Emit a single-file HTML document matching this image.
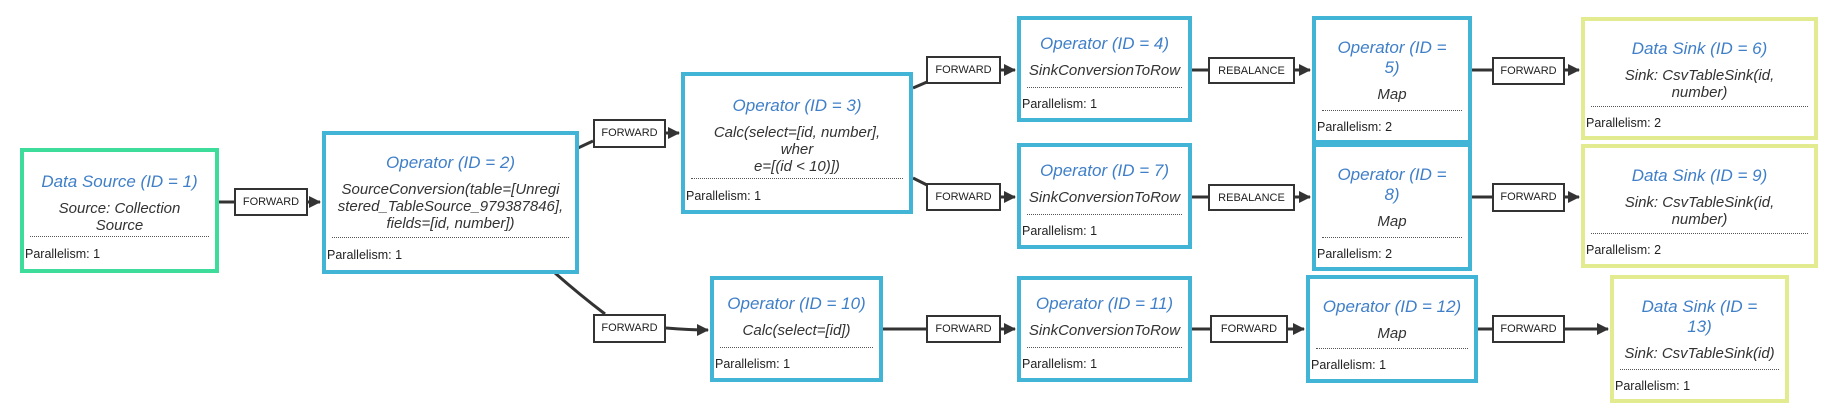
<!DOCTYPE html>
<html><head><meta charset="utf-8"><style>
body{margin:0;width:1841px;height:409px;background:#fff;position:relative;overflow:hidden;font-family:"Liberation Sans",sans-serif}
.n{position:absolute;box-sizing:border-box;border:4px solid #42b4d6;background:#fff;text-align:center}
.g{border-color:#3ddc9b}.y{border-color:#e2eb90}
.t{color:#3f7fc8;font-style:italic;font-size:17px;line-height:20px;margin-top:14px}
.b{color:#333;font-style:italic;font-size:15px;line-height:17px;margin-top:8px}
.s{position:absolute;left:6px;right:6px;border-top:1px dotted #555}
.p{position:absolute;left:1px;font-size:12.5px;color:#222}
.l{position:absolute;box-sizing:border-box;border:2px solid #333;background:#fff;font-size:11px;color:#222;text-align:center;line-height:24px}
svg{position:absolute;left:0;top:0}
</style></head><body>
<svg width="1841" height="409">
<defs><marker id="a" markerWidth="12" markerHeight="12" refX="11" refY="6" orient="auto" markerUnits="userSpaceOnUse"><path d="M0,0L12,6L0,12z" fill="#333"/></marker></defs>
<g stroke="#333" stroke-width="3" fill="none">
<path d="M218,202H234"/><path d="M308,202H320" marker-end="url(#a)"/>
<path d="M578,148L593,141"/><path d="M666,133H679" marker-end="url(#a)"/>
<path d="M555,273Q580,295 605,314"/><path d="M666,328Q690,330 708,330" marker-end="url(#a)"/>
<path d="M913,88L927,82"/><path d="M1001,70H1015" marker-end="url(#a)"/>
<path d="M913,178L927,185"/><path d="M1001,197H1015" marker-end="url(#a)"/>
<path d="M1192,70H1208"/><path d="M1295,70H1310" marker-end="url(#a)"/>
<path d="M1192,197H1208"/><path d="M1295,197H1310" marker-end="url(#a)"/>
<path d="M1470,70H1492"/><path d="M1565,70H1579" marker-end="url(#a)"/>
<path d="M1470,197H1492"/><path d="M1565,197H1579" marker-end="url(#a)"/>
<path d="M883,329H926"/><path d="M1001,329H1015" marker-end="url(#a)"/>
<path d="M1192,329H1210"/><path d="M1288,329H1304" marker-end="url(#a)"/>
<path d="M1478,329H1492"/><path d="M1565,329H1608" marker-end="url(#a)"/>
</g></svg>

<div class="n g" style="left:20px;top:148px;width:199px;height:125px"><div class="t" style="margin-top:20px">Data Source (ID = 1)</div><div class="b">Source: Collection<br>Source</div><div class="s" style="top:84px"></div><div class="p" style="top:95px">Parallelism: 1</div></div>
<div class="n" style="left:322px;top:131px;width:257px;height:143px"><div class="t" style="margin-top:18px">Operator (ID = 2)</div><div class="b">SourceConversion(table=[Unregi<br>stered_TableSource_979387846],<br>fields=[id, number])</div><div class="s" style="top:102px"></div><div class="p" style="top:113px">Parallelism: 1</div></div>
<div class="n" style="left:681px;top:72px;width:232px;height:142px"><div class="t" style="margin-top:20px">Operator (ID = 3)</div><div class="b">Calc(select=[id, number],<br>wher<br>e=[(id &lt; 10)])</div><div class="s" style="top:102px"></div><div class="p" style="top:113px">Parallelism: 1</div></div>
<div class="n" style="left:1017px;top:16px;width:175px;height:106px"><div class="t">Operator (ID = 4)</div><div class="b">SinkConversionToRow</div><div class="s" style="top:67px"></div><div class="p" style="top:77px">Parallelism: 1</div></div>
<div class="n" style="left:1017px;top:143px;width:175px;height:106px"><div class="t">Operator (ID = 7)</div><div class="b">SinkConversionToRow</div><div class="s" style="top:67px"></div><div class="p" style="top:77px">Parallelism: 1</div></div>
<div class="n" style="left:710px;top:276px;width:173px;height:106px"><div class="t">Operator (ID = 10)</div><div class="b">Calc(select=[id])</div><div class="s" style="top:67px"></div><div class="p" style="top:77px">Parallelism: 1</div></div>
<div class="n" style="left:1017px;top:276px;width:175px;height:106px"><div class="t">Operator (ID = 11)</div><div class="b">SinkConversionToRow</div><div class="s" style="top:67px"></div><div class="p" style="top:77px">Parallelism: 1</div></div>
<div class="n" style="left:1312px;top:16px;width:160px;height:128px"><div class="t" style="margin-top:18px">Operator (ID =<br>5)</div><div class="b">Map</div><div class="s" style="top:90px"></div><div class="p" style="top:100px">Parallelism: 2</div></div>
<div class="n" style="left:1312px;top:143px;width:160px;height:128px"><div class="t" style="margin-top:18px">Operator (ID =<br>8)</div><div class="b">Map</div><div class="s" style="top:90px"></div><div class="p" style="top:100px">Parallelism: 2</div></div>
<div class="n" style="left:1306px;top:275px;width:172px;height:108px"><div class="t" style="margin-top:18px">Operator (ID = 12)</div><div class="b">Map</div><div class="s" style="top:69px"></div><div class="p" style="top:79px">Parallelism: 1</div></div>
<div class="n y" style="left:1581px;top:17px;width:237px;height:123px"><div class="t" style="margin-top:18px">Data Sink (ID = 6)</div><div class="b">Sink: CsvTableSink(id,<br>number)</div><div class="s" style="top:85px"></div><div class="p" style="top:95px">Parallelism: 2</div></div>
<div class="n y" style="left:1581px;top:144px;width:237px;height:124px"><div class="t" style="margin-top:18px">Data Sink (ID = 9)</div><div class="b">Sink: CsvTableSink(id,<br>number)</div><div class="s" style="top:85px"></div><div class="p" style="top:95px">Parallelism: 2</div></div>
<div class="n y" style="left:1610px;top:275px;width:179px;height:128px"><div class="t" style="margin-top:18px">Data Sink (ID =<br>13)</div><div class="b">Sink: CsvTableSink(id)</div><div class="s" style="top:90px"></div><div class="p" style="top:100px">Parallelism: 1</div></div>

<div class="l" style="left:234px;top:188px;width:74px;height:28px">FORWARD</div>
<div class="l" style="left:593px;top:119px;width:73px;height:29px">FORWARD</div>
<div class="l" style="left:593px;top:314px;width:73px;height:29px">FORWARD</div>
<div class="l" style="left:926px;top:56px;width:75px;height:28px">FORWARD</div>
<div class="l" style="left:926px;top:183px;width:75px;height:28px">FORWARD</div>
<div class="l" style="left:926px;top:315px;width:75px;height:28px">FORWARD</div>
<div class="l" style="left:1208px;top:57px;width:87px;height:27px">REBALANCE</div>
<div class="l" style="left:1208px;top:184px;width:87px;height:27px">REBALANCE</div>
<div class="l" style="left:1210px;top:315px;width:78px;height:28px">FORWARD</div>
<div class="l" style="left:1492px;top:57px;width:73px;height:28px">FORWARD</div>
<div class="l" style="left:1492px;top:183px;width:73px;height:29px">FORWARD</div>
<div class="l" style="left:1492px;top:315px;width:73px;height:28px">FORWARD</div>
</body></html>
